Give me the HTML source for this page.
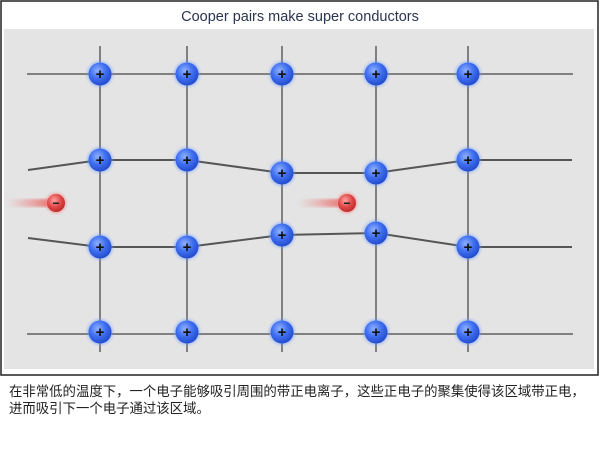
<!DOCTYPE html>
<html><head><meta charset="utf-8"><style>
html,body{margin:0;padding:0;background:#fff;width:600px;height:451px;overflow:hidden}
svg{display:block}
</style></head><body>
<svg width="600" height="451" viewBox="0 0 600 451" xmlns="http://www.w3.org/2000/svg">
<defs>
<radialGradient id="b" cx="0.4" cy="0.35" r="0.7">
<stop offset="0" stop-color="#8fb0ff"/><stop offset="0.5" stop-color="#3f6ff0"/><stop offset="1" stop-color="#1f46c8"/>
</radialGradient>
<radialGradient id="r" cx="0.4" cy="0.35" r="0.7">
<stop offset="0" stop-color="#ffa0a0"/><stop offset="0.55" stop-color="#e04848"/><stop offset="1" stop-color="#b82828"/>
</radialGradient>
<linearGradient id="t" x1="0" x2="1">
<stop offset="0" stop-color="#f08080" stop-opacity="0"/><stop offset="1" stop-color="#e85a5a" stop-opacity="0.8"/>
</linearGradient>
<filter id="g"><feGaussianBlur stdDeviation="1.2"/></filter>
</defs>
<rect x="1" y="1" width="597" height="374" fill="#fff" stroke="#222" stroke-width="1.5"/>
<rect x="4" y="29" width="590" height="340" fill="#e4e4e4"/>
<text x="300" y="21" text-anchor="middle" font-family="Liberation Sans, sans-serif" font-size="14.5" fill="#2a3550">Cooper pairs make super conductors</text>
<g stroke="#808080" stroke-width="2" fill="none">
<line x1="100" y1="46" x2="100" y2="352"/><line x1="187" y1="46" x2="187" y2="352"/>
<line x1="282" y1="46" x2="282" y2="352"/><line x1="376" y1="46" x2="376" y2="352"/>
<line x1="468" y1="46" x2="468" y2="352"/>
<line x1="27" y1="74" x2="573" y2="74"/>
<line x1="27" y1="334" x2="573" y2="334"/>
</g>
<g stroke="#555" stroke-width="2" fill="none">
<polyline points="28,170 100,160 187,160 282,173 376,173 468,160 572,160"/>
<polyline points="28,238 100,247 187,247 282,235 376,233 468,247 572,247"/>
</g>
<g fill="#6f9cff" opacity="0.5" filter="url(#g)">
<circle cx="100" cy="74" r="13"/><circle cx="187" cy="74" r="13"/><circle cx="282" cy="74" r="13"/><circle cx="376" cy="74" r="13"/><circle cx="468" cy="74" r="13"/>
<circle cx="100" cy="160" r="13"/><circle cx="187" cy="160" r="13"/><circle cx="282" cy="173" r="13"/><circle cx="376" cy="173" r="13"/><circle cx="468" cy="160" r="13"/>
<circle cx="100" cy="247" r="13"/><circle cx="187" cy="247" r="13"/><circle cx="282" cy="235" r="13"/><circle cx="376" cy="233" r="13"/><circle cx="468" cy="247" r="13"/>
<circle cx="100" cy="332" r="13"/><circle cx="187" cy="332" r="13"/><circle cx="282" cy="332" r="13"/><circle cx="376" cy="332" r="13"/><circle cx="468" cy="332" r="13"/>
</g>
<g fill="url(#b)">
<circle cx="100" cy="74" r="11.5"/><circle cx="187" cy="74" r="11.5"/><circle cx="282" cy="74" r="11.5"/><circle cx="376" cy="74" r="11.5"/><circle cx="468" cy="74" r="11.5"/>
<circle cx="100" cy="160" r="11.5"/><circle cx="187" cy="160" r="11.5"/><circle cx="282" cy="173" r="11.5"/><circle cx="376" cy="173" r="11.5"/><circle cx="468" cy="160" r="11.5"/>
<circle cx="100" cy="247" r="11.5"/><circle cx="187" cy="247" r="11.5"/><circle cx="282" cy="235" r="11.5"/><circle cx="376" cy="233" r="11.5"/><circle cx="468" cy="247" r="11.5"/>
<circle cx="100" cy="332" r="11.5"/><circle cx="187" cy="332" r="11.5"/><circle cx="282" cy="332" r="11.5"/><circle cx="376" cy="332" r="11.5"/><circle cx="468" cy="332" r="11.5"/>
</g>
<g font-family="Liberation Sans, sans-serif" font-size="15" font-weight="bold" fill="#111" text-anchor="middle">
<text x="100" y="79">+</text><text x="187" y="79">+</text><text x="282" y="79">+</text><text x="376" y="79">+</text><text x="468" y="79">+</text>
<text x="100" y="165">+</text><text x="187" y="165">+</text><text x="282" y="178">+</text><text x="376" y="178">+</text><text x="468" y="165">+</text>
<text x="100" y="252">+</text><text x="187" y="252">+</text><text x="282" y="240">+</text><text x="376" y="238">+</text><text x="468" y="252">+</text>
<text x="100" y="337">+</text><text x="187" y="337">+</text><text x="282" y="337">+</text><text x="376" y="337">+</text><text x="468" y="337">+</text>
</g>
<g filter="url(#g)">
<rect x="6" y="199" width="44" height="8" fill="url(#t)"/>
<rect x="298" y="199" width="44" height="8" fill="url(#t)"/>
</g>
<circle cx="56" cy="203" r="10.5" fill="#f49090" opacity="0.6" filter="url(#g)"/>
<circle cx="347" cy="203" r="10.5" fill="#f49090" opacity="0.6" filter="url(#g)"/>
<circle cx="56" cy="203" r="9" fill="url(#r)"/>
<circle cx="347" cy="203" r="9" fill="url(#r)"/>
<rect x="53" y="202.5" width="6" height="1.5" fill="#222"/>
<rect x="344" y="202.5" width="6" height="1.5" fill="#222"/>
<g font-family="Liberation Sans, Noto Sans CJK SC, sans-serif" font-size="13.4" fill="#222">
<text x="9" y="396">在非常低的温度下，一个电子能够吸引周围的带正电离子，这些正电子的聚集使得该区域带正电，</text>
<text x="9" y="413">进而吸引下一个电子通过该区域。</text>
</g>
</svg>
</body></html>
